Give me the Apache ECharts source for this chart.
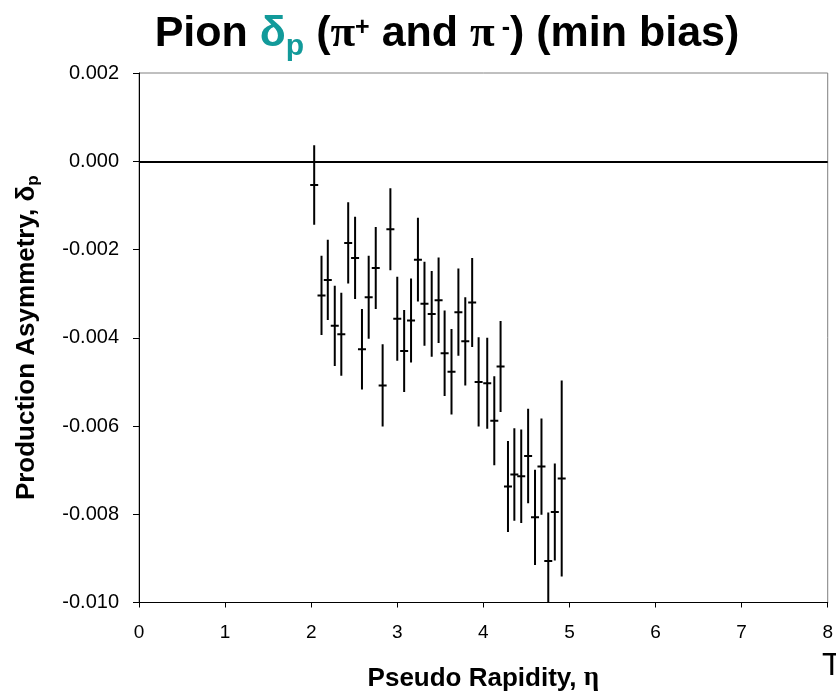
<!DOCTYPE html>
<html><head><meta charset="utf-8">
<script src="https://cdn.jsdelivr.net/npm/echarts@6/dist/echarts.min.js"></script>
<style>html,body{margin:0;padding:0;background:#fff}#c{width:836px;height:697px}</style>
</head><body><div id="c"></div>
<script>
// Pseudo rapidity (x), production asymmetry (y), error (±)
const eta = [2.035,2.12,2.193,2.274,2.35,2.43,2.51,2.59,2.668,2.75,2.83,2.92,3.0,3.08,3.16,3.24,3.316,
  3.40,3.48,3.55,3.63,3.71,3.79,3.87,3.945,4.045,4.127,4.2,4.286,4.36,4.44,4.52,4.6,4.675,4.754,4.83,4.91];
const asym = [-0.00054,-0.00304,-0.00269,-0.00373,-0.00392,-0.00185,-0.00219,-0.00426,-0.00308,-0.00242,-0.00508,-0.00154,-0.00357,-0.0043,-0.00361,-0.00223,-0.00323,
  -0.00346,-0.00315,-0.00435,-0.00477,-0.00342,-0.00408,-0.0032,-0.005,-0.00503,-0.00588,-0.00465,-0.00737,-0.0071,-0.00714,-0.00668,-0.00807,-0.00692,-0.00906,-0.00795,-0.00719];
const err = [0.0009,0.0009,0.00091,0.00091,0.00094,0.00092,0.00093,0.00091,0.00094,0.00093,0.00093,0.00093,0.00095,0.00093,0.00095,0.00095,0.00095,
  0.00097,0.00097,0.00097,0.00097,0.00099,0.001,0.00101,0.00101,0.00103,0.00101,0.00103,0.00103,0.00105,0.00106,0.00107,0.00108,0.00109,0.0011,0.0011,0.00222];
const xTicks = [0,1,2,3,4,5,6,7,8];
const yTicks = [-0.010,-0.008,-0.006,-0.004,-0.002,0.000,0.002];

const data = eta.map((x,i)=>[x, asym[i], asym[i]-err[i], asym[i]+err[i]]);
const chart = echarts.init(document.getElementById('c'));
const SANS = "'Liberation Sans', Arial, sans-serif";
const SERIF = "'Liberation Serif', 'Times New Roman', serif";
const TEAL = '#129a9a';
chart.setOption({
  animation:false,
  backgroundColor:'#fff',
  grid:{left:139,right:6,top:73,bottom:92,show:true,borderColor:'#808080',borderWidth:1,backgroundColor:'transparent'},
  xAxis:{type:'value',min:xTicks[0],max:xTicks[xTicks.length-1],interval:1,
    axisLine:{onZero:false,lineStyle:{color:'#000',width:1}},
    axisTick:{inside:false,length:5,lineStyle:{color:'#000'}},
    axisLabel:{margin:21,color:'#000',fontSize:19,fontFamily:SANS},
    splitLine:{show:false},
    name:'{n|Pseudo Rapidity, }{e|η}',nameLocation:'middle',nameGap:62,
    nameTextStyle:{rich:{n:{fontSize:26,fontWeight:'bold',fontFamily:SANS,color:'#000',lineHeight:28},e:{fontSize:27,fontWeight:'bold',fontFamily:SERIF,color:'#000',lineHeight:28}}}
  },
  yAxis:{type:'value',min:yTicks[0],max:yTicks[yTicks.length-1],interval:0.002,
    axisLine:{onZero:false,lineStyle:{color:'#000',width:1}},
    axisTick:{inside:false,length:6,lineStyle:{color:'#000'}},
    axisLabel:{margin:20,color:'#000',fontSize:20,fontFamily:SANS,formatter:v=>v.toFixed(3)},
    splitLine:{show:false},
    name:'{n|Production Asymmetry, }{d|δ}{s|p}',nameLocation:'middle',nameGap:97,
    nameTextStyle:{rich:{n:{fontSize:26,fontWeight:'bold',fontFamily:SANS,color:'#000',lineHeight:30},
      d:{fontSize:26,fontWeight:'bold',fontFamily:SANS,color:'#000',lineHeight:30},
      s:{fontSize:17,fontWeight:'bold',fontFamily:SANS,color:'#000',lineHeight:20,verticalAlign:'bottom'}}}
  },
  graphic:[
    {type:'text',x:447,y:6,z:10,
      style:{text:'{a|Pion }{d|δ}{s|p}{a| (}{p|π}{u|+}{a| and }{p|π}{u| -}{a|) (min bias)}',
        align:'center',verticalAlign:'top',
        rich:{
          a:{fontSize:43,fontWeight:'bold',fontFamily:SANS,fill:'#000',lineHeight:56},
          d:{fontSize:43,fontWeight:'bold',fontFamily:SANS,fill:TEAL,lineHeight:56},
          s:{fontSize:30,fontWeight:'bold',fontFamily:SANS,fill:TEAL,lineHeight:26,verticalAlign:'bottom'},
          p:{fontSize:45,fontWeight:'bold',fontFamily:SERIF,fill:'#000',lineHeight:56},
          u:{fontSize:25,fontWeight:'bold',fontFamily:SANS,fill:'#000',lineHeight:45,padding:[0,0,11,0],verticalAlign:'middle'}
        }}},
    {type:'text',x:822,y:650,z:10,style:{text:'T',fontSize:32,fontFamily:SANS,fill:'#000'}}
  ],
  series:[{
    type:'custom',
    data:data,
    encode:{x:0,y:[1,2,3]},
    clip:true,
    renderItem:function(params,api){
      const c = api.coord([api.value(0),api.value(1)]);
      const lo = api.coord([api.value(0),api.value(2)]);
      const hi = api.coord([api.value(0),api.value(3)]);
      const st = {stroke:'#000',lineWidth:2};
      return {type:'group',children:[
        {type:'line',shape:{x1:c[0],y1:lo[1],x2:c[0],y2:hi[1]},style:st},
        {type:'line',shape:{x1:c[0]-4,y1:c[1],x2:c[0]+4,y2:c[1]},style:st}
      ]};
    },
    markLine:{silent:true,symbol:'none',label:{show:false},
      lineStyle:{color:'#000',width:2,type:'solid'},
      data:[{yAxis:0}]}
  }]
});
</script></body></html>
